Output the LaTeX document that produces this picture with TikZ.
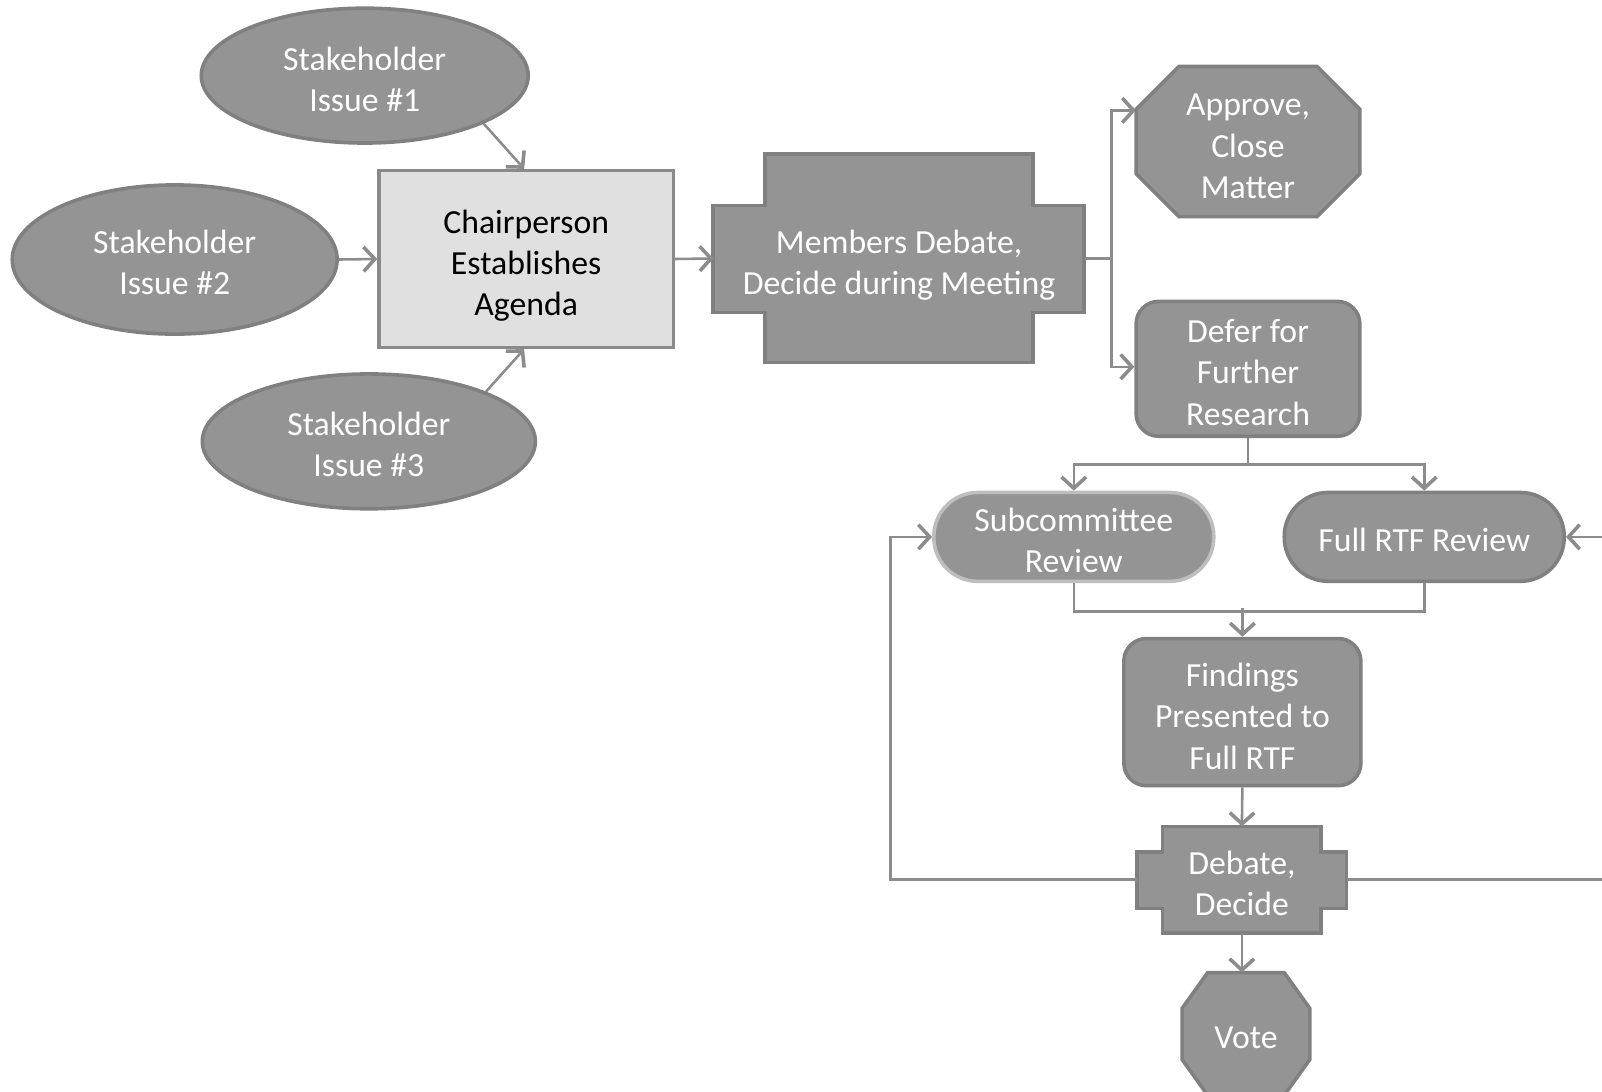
\documentclass[tikz,border=0pt]{standalone}
\usepackage{fontspec}
\setmainfont{Carlito}
\usetikzlibrary{arrows.meta,calc,shapes.geometric}
\definecolor{nodefill}{RGB}{148,148,148}
\definecolor{nodeline}{RGB}{128,128,128}
\definecolor{lightline}{RGB}{190,190,190}
\definecolor{chairfill}{RGB}{224,224,224}
\definecolor{chairline}{RGB}{138,138,138}
\definecolor{connline}{RGB}{140,140,140}
\tikzset{
  txt/.style={font=\fontsize{33}{40.5}\selectfont, text=white, align=center, inner sep=0pt},
  shapebox/.style={fill=nodefill, draw=nodeline, line width=3.5pt, inner sep=0pt},
  ellnode/.style={shapebox, ellipse},
  rrnode/.style={shapebox, rectangle, rounded corners=22pt},
  stadnode/.style={shapebox, rectangle, rounded corners=43pt, minimum width=274pt, minimum height=87pt},
  plainnode/.style={rectangle, draw=none, inner sep=0pt},
  outline/.style={fill=nodefill, draw=nodeline, line width=3.5pt},
  conn/.style={draw=connline, line width=2.5pt},
  arr/.style={conn, -{Straight Barb[length=11pt,width=24pt,line width=3.5pt]}},
}
\begin{document}
\begin{tikzpicture}[x=1pt,y=-1pt]
\useasboundingbox (0,0) rectangle (1568,1068);
\clip (0,0) rectangle (1568,1068);

% Stakeholders
\node[ellnode, minimum width=320pt, minimum height=132pt] (s1) at (357,74) {};
\node[txt] (s1t) at ([yshift=-3.5pt]s1.center) {Stakeholder\\Issue \#1};
\node[ellnode, minimum width=318pt, minimum height=146pt] (s2) at (171,254) {};
\node[txt] (s2t) at ([yshift=-3pt]s2.center) {Stakeholder\\Issue \#2};
\node[ellnode, minimum width=326pt, minimum height=132pt] (s3) at (361,432) {};
\node[txt] (s3t) at ([yshift=-3pt]s3.center) {Stakeholder\\Issue \#3};

% Chairperson
\node[rectangle, fill=chairfill, draw=chairline, line width=3.5pt, inner sep=0pt,
      minimum width=288pt, minimum height=173pt] (chair) at (515,253.5) {};
\node[txt, text=black] (chairt) at ([yshift=-6.5pt]chair.center) {Chairperson\\Establishes\\Agenda};

% Members debate (cross shape)
\draw[outline] (749,151) -- (1011,151) -- (1011,201) -- (1061,201) -- (1061,306) -- (1011,306)
  -- (1011,355) -- (749,355) -- (749,306) -- (698,306) -- (698,201) -- (749,201) -- cycle;
\node[plainnode, minimum width=363pt, minimum height=105pt] (members) at (880,253) {};
\node[txt] (memberst) at ([yshift=-6.5pt]members.center) {Members Debate,\\Decide during Meeting};

% Approve octagon
\draw[outline] (1154,65) -- (1289,65) -- (1331,107) -- (1331,170) -- (1289,212) -- (1154,212)
  -- (1112,170) -- (1112,107) -- cycle;
\node[plainnode, minimum width=219pt, minimum height=147pt] (approve) at (1221.5,138.5) {};
\node[txt] (approvet) at ([yshift=-5pt]approve.center) {Approve,\\Close\\Matter};

% Defer
\node[rrnode, minimum width=219pt, minimum height=132pt] (defer) at (1221.5,361) {};
\node[txt] (defert) at ([yshift=-3.5pt]defer.center) {Defer for\\Further\\Research};

% Reviews
\node[stadnode, draw=lightline] (sub) at (1051,525.5) {};
\node[txt] (subt) at ([yshift=-3.5pt]sub.center) {Subcommittee\\Review};
\node[stadnode] (full) at (1394,525.5) {};
\node[txt] (fullt) at ([yshift=-3pt]full.center) {Full RTF Review};

% Findings
\node[rrnode, minimum width=232pt, minimum height=144pt] (find) at (1216,697) {};
\node[txt] (findt) at ([yshift=-4pt]find.center) {Findings\\Presented to\\Full RTF};

% Debate, Decide (cross shape)
\draw[outline] (1138,809) -- (1293,809) -- (1293,834) -- (1318,834) -- (1318,889) -- (1293,889)
  -- (1293,913) -- (1138,913) -- (1138,889) -- (1113,889) -- (1113,834) -- (1138,834) -- cycle;
\node[plainnode, minimum width=205pt, minimum height=104pt] (debate) at (1215.5,861) {};
\node[txt] (debatet) at ([yshift=-3.5pt]debate.center) {Debate,\\Decide};

% Vote octagon
\draw[outline] (1182,952) -- (1257,952) -- (1282,987) -- (1282,1037) -- (1257,1072) -- (1182,1072)
  -- (1157,1037) -- (1157,987) -- cycle;
\node[plainnode, minimum width=125pt, minimum height=120pt] (vote) at (1219.5,1012) {};
\node[txt] (votet) at ([yshift=-4pt]vote.center) {Vote};

% Connectors
\draw[arr] (s1.-22.6) -- ($(chair.north)+(-2,0)$);
\draw[arr] (s2.east) -- (chair.west);
\draw[arr] (s3.23) -- ($(chair.south)+(-2,0)$);
\draw[arr] (chair.east) -- (members.west);
\draw[conn] (members.east) -- ++(26,0) coordinate (split);
\draw[arr] (split) |- ($(approve.west)+(0,-30.5)$);
\draw[arr] (split) |- ($(defer.west)+(0,-2)$);
\draw[conn] (defer.south) -- ++(0,26) coordinate (dsplit);
\draw[arr] (dsplit) -| (sub.north);
\draw[arr] (dsplit) -| (full.north);
\draw[conn] (sub.south) -- ++(0,28) -| (full.south);
\draw[arr] ($(find.north)+(0,-28)$) -- (find.north);
\draw[arr] (find.south) -- (debate.north);
\draw[arr] (debate.south) -- (debate.south |- vote.north);
\draw[arr] (debate.west) -- ++(-241,0) |- (sub.west);
\draw[arr] (debate.east) -- ++(320,0) |- (full.east);
\end{tikzpicture}
\end{document}
